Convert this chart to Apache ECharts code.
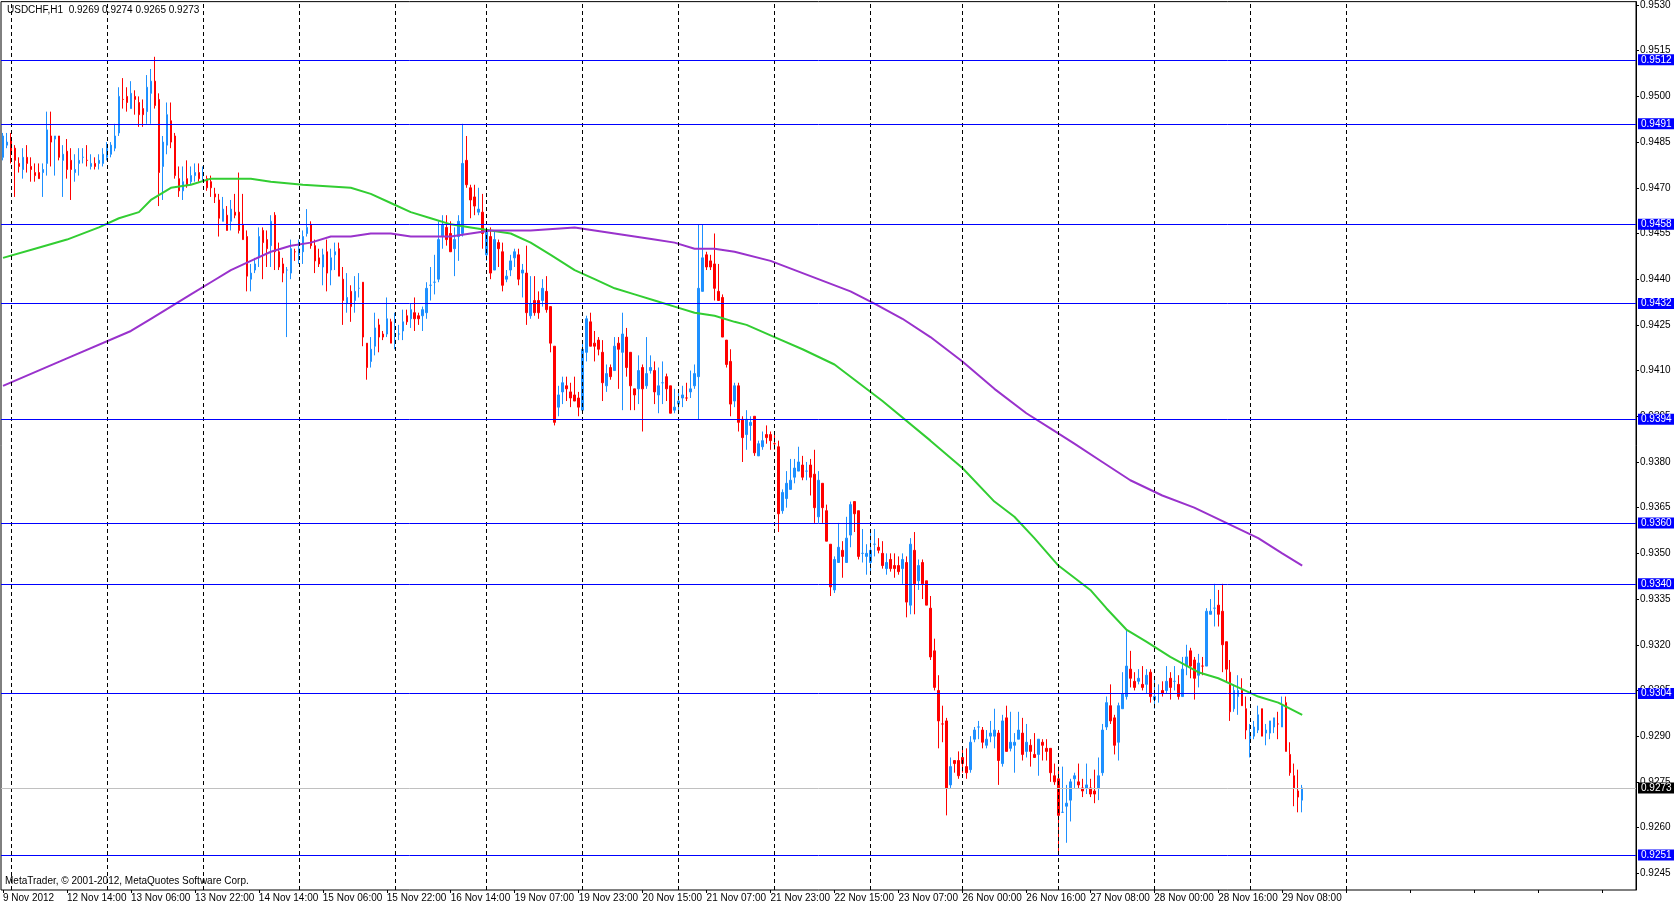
<!DOCTYPE html>
<html>
<head>
<meta charset="utf-8">
<title>USDCHF,H1</title>
<script src="https://cdn.jsdelivr.net/npm/echarts@6/dist/echarts.min.js"></script>
<style>
  html, body { margin: 0; padding: 0; background: #fff; }
  #main { width: 1674px; height: 906px; }
</style>
</head>
<body>
<div id="main"></div>
<script>
// hourly bars, [open, high, low, close]
const bars = [
  [0.9480,0.9488,0.9479,0.9487],[0.9484,0.9488,0.9483,0.9485],[0.9486,0.9488,0.9478,0.9481],[0.9483,0.9484,0.9467,0.9479],
  [0.9478,0.9480,0.9475,0.9477],[0.9476,0.9483,0.9473,0.9480],[0.9480,0.9484,0.9475,0.9478],[0.9477,0.9480,0.9472,0.9476],
  [0.9475,0.9478,0.9472,0.9474],[0.9475,0.9478,0.9473,0.9473],[0.9475,0.9478,0.9467,0.9476],[0.9478,0.9495,0.9474,0.9489],
  [0.9487,0.9495,0.9477,0.9485],[0.9486,0.9487,0.9474,0.9487],[0.9487,0.9487,0.9479,0.9480],[0.9479,0.9484,0.9467,0.9481],
  [0.9482,0.9486,0.9473,0.9476],[0.9479,0.9483,0.9466,0.9476],[0.9475,0.9481,0.9472,0.9476],[0.9478,0.9483,0.9474,0.9479],
  [0.9480,0.9483,0.9478,0.9480],[0.9479,0.9484,0.9477,0.9479],[0.9477,0.9481,0.9476,0.9478],[0.9478,0.9480,0.9476,0.9477],
  [0.9478,0.9481,0.9476,0.9479],[0.9478,0.9483,0.9477,0.9481],[0.9480,0.9485,0.9479,0.9483],[0.9481,0.9485,0.9480,0.9484],
  [0.9483,0.9491,0.9482,0.9487],[0.9488,0.9503,0.9487,0.9500],[0.9499,0.9506,0.9496,0.9499],[0.9500,0.9503,0.9495,0.9498],
  [0.9496,0.9505,0.9496,0.9501],[0.9500,0.9502,0.9494,0.9499],[0.9498,0.9500,0.9490,0.9494],[0.9496,0.9499,0.9490,0.9494],
  [0.9495,0.9507,0.9491,0.9503],[0.9501,0.9509,0.9491,0.9505],[0.9505,0.9513,0.9496,0.9497],[0.9499,0.9501,0.9464,0.9475],
  [0.9477,0.9487,0.9466,0.9485],[0.9484,0.9498,0.9481,0.9494],[0.9492,0.9498,0.9483,0.9485],[0.9487,0.9488,0.9473,0.9474],
  [0.9473,0.9477,0.9467,0.9469],[0.9469,0.9477,0.9466,0.9472],[0.9473,0.9479,0.9470,0.9471],[0.9472,0.9477,0.9471,0.9474],
  [0.9474,0.9478,0.9472,0.9475],[0.9475,0.9478,0.9472,0.9473],[0.9474,0.9477,0.9472,0.9474],[0.9473,0.9474,0.9469,0.9470],
  [0.9472,0.9474,0.9467,0.9470],[0.9468,0.9470,0.9465,0.9467],[0.9466,0.9468,0.9454,0.9460],[0.9459,0.9467,0.9459,0.9463],
  [0.9461,0.9464,0.9456,0.9456],[0.9459,0.9466,0.9456,0.9463],[0.9462,0.9468,0.9460,0.9461],[0.9462,0.9475,0.9455,0.9456],
  [0.9458,0.9468,0.9453,0.9453],[0.9454,0.9456,0.9436,0.9441],[0.9440,0.9445,0.9436,0.9442],[0.9443,0.9447,0.9442,0.9445],
  [0.9447,0.9457,0.9444,0.9454],[0.9456,0.9457,0.9440,0.9452],[0.9453,0.9456,0.9444,0.9450],[0.9451,0.9461,0.9444,0.9459],
  [0.9461,0.9462,0.9443,0.9449],[0.9449,0.9452,0.9443,0.9444],[0.9445,0.9447,0.9439,0.9442],[0.9443,0.9444,0.9421,0.9443],
  [0.9442,0.9453,0.9440,0.9450],[0.9449,0.9450,0.9446,0.9449],[0.9448,0.9453,0.9445,0.9450],[0.9449,0.9456,0.9445,0.9454],
  [0.9455,0.9463,0.9454,0.9457],[0.9458,0.9459,0.9450,0.9451],[0.9451,0.9453,0.9442,0.9446],[0.9447,0.9450,0.9444,0.9445],
  [0.9444,0.9450,0.9438,0.9448],[0.9449,0.9453,0.9436,0.9442],[0.9443,0.9450,0.9438,0.9447],[0.9448,0.9452,0.9443,0.9449],
  [0.9450,0.9452,0.9441,0.9441],[0.9440,0.9444,0.9425,0.9433],[0.9432,0.9442,0.9429,0.9434],[0.9436,0.9438,0.9426,0.9431],
  [0.9433,0.9441,0.9429,0.9436],[0.9437,0.9442,0.9434,0.9437],[0.9439,0.9439,0.9418,0.9421],[0.9419,0.9419,0.9407,0.9411],
  [0.9413,0.9421,0.9411,0.9417],[0.9418,0.9429,0.9415,0.9424],[0.9425,0.9427,0.9416,0.9421],[0.9422,0.9423,0.9420,0.9421],
  [0.9422,0.9434,0.9421,0.9427],[0.9426,0.9427,0.9419,0.9419],[0.9419,0.9429,0.9417,0.9420],[0.9422,0.9425,0.9420,0.9422],
  [0.9423,0.9430,0.9420,0.9426],[0.9428,0.9430,0.9425,0.9426],[0.9427,0.9432,0.9424,0.9430],[0.9429,0.9434,0.9423,0.9427],
  [0.9428,0.9429,0.9425,0.9427],[0.9428,0.9431,0.9423,0.9430],[0.9429,0.9439,0.9427,0.9437],[0.9438,0.9444,0.9433,0.9438],
  [0.9439,0.9448,0.9435,0.9439],[0.9440,0.9459,0.9439,0.9453],[0.9454,0.9461,0.9450,0.9458],[0.9457,0.9461,0.9451,0.9453],
  [0.9455,0.9459,0.9449,0.9449],[0.9450,0.9457,0.9441,0.9453],[0.9454,0.9461,0.9446,0.9459],[0.9455,0.9491,0.9454,0.9478],
  [0.9479,0.9487,0.9470,0.9471],[0.9470,0.9471,0.9460,0.9466],[0.9467,0.9471,0.9461,0.9464],[0.9462,0.9470,0.9461,0.9463],
  [0.9462,0.9468,0.9450,0.9455],[0.9448,0.9457,0.9446,0.9456],[0.9454,0.9457,0.9440,0.9442],[0.9443,0.9456,0.9443,0.9453],
  [0.9452,0.9453,0.9444,0.9450],[0.9449,0.9452,0.9436,0.9438],[0.9440,0.9443,0.9439,0.9441],[0.9443,0.9448,0.9441,0.9446],
  [0.9447,0.9450,0.9444,0.9449],[0.9448,0.9450,0.9438,0.9440],[0.9442,0.9445,0.9434,0.9443],[0.9442,0.9451,0.9425,0.9429],
  [0.9428,0.9441,0.9427,0.9432],[0.9433,0.9441,0.9428,0.9429],[0.9433,0.9436,0.9427,0.9429],[0.9433,0.9440,0.9431,0.9437],
  [0.9436,0.9441,0.9429,0.9430],[0.9431,0.9431,0.9416,0.9419],[0.9418,0.9418,0.9392,0.9393],[0.9398,0.9405,0.9395,0.9402],
  [0.9403,0.9408,0.9399,0.9406],[0.9405,0.9408,0.9400,0.9404],[0.9403,0.9406,0.9398,0.9401],[0.9402,0.9408,0.9400,0.9400],
  [0.9401,0.9403,0.9395,0.9398],[0.9397,0.9419,0.9396,0.9417],[0.9416,0.9428,0.9413,0.9427],[0.9426,0.9429,0.9418,0.9418],
  [0.9419,0.9423,0.9413,0.9418],[0.9420,0.9421,0.9415,0.9417],[0.9416,0.9420,0.9400,0.9406],[0.9405,0.9412,0.9403,0.9409],
  [0.9411,0.9412,0.9407,0.9408],[0.9410,0.9421,0.9410,0.9418],[0.9419,0.9421,0.9404,0.9417],[0.9416,0.9429,0.9397,0.9422],
  [0.9421,0.9424,0.9408,0.9411],[0.9416,0.9416,0.9397,0.9405],[0.9404,0.9404,0.9397,0.9402],[0.9404,0.9415,0.9399,0.9410],
  [0.9411,0.9412,0.9390,0.9404],[0.9405,0.9421,0.9404,0.9409],[0.9410,0.9415,0.9409,0.9411],[0.9410,0.9413,0.9399,0.9403],
  [0.9402,0.9411,0.9396,0.9405],[0.9406,0.9413,0.9399,0.9406],[0.9408,0.9409,0.9400,0.9404],[0.9405,0.9405,0.9396,0.9396],
  [0.9397,0.9404,0.9396,0.9398],[0.9399,0.9403,0.9396,0.9400],[0.9401,0.9405,0.9398,0.9402],[0.9401,0.9406,0.9400,0.9401],
  [0.9403,0.9410,0.9401,0.9404],[0.9405,0.9412,0.9404,0.9409],[0.9408,0.9458,0.9394,0.9437],[0.9436,0.9458,0.9436,0.9447],
  [0.9448,0.9449,0.9443,0.9444],[0.9446,0.9448,0.9443,0.9444],[0.9445,0.9455,0.9433,0.9437],[0.9436,0.9445,0.9433,0.9433],
  [0.9434,0.9435,0.9421,0.9421],[0.9420,0.9420,0.9411,0.9412],[0.9413,0.9417,0.9395,0.9399],[0.9400,0.9406,0.9398,0.9405],
  [0.9405,0.9406,0.9390,0.9393],[0.9394,0.9395,0.9380,0.9388],[0.9389,0.9397,0.9384,0.9394],[0.9392,0.9395,0.9387,0.9393],
  [0.9395,0.9395,0.9382,0.9383],[0.9382,0.9387,0.9382,0.9386],[0.9385,0.9390,0.9384,0.9387],[0.9389,0.9392,0.9386,0.9388],
  [0.9389,0.9390,0.9384,0.9387],[0.9386,0.9389,0.9384,0.9386],[0.9385,0.9387,0.9357,0.9363],[0.9364,0.9371,0.9363,0.9370],
  [0.9368,0.9377,0.9365,0.9373],[0.9371,0.9381,0.9371,0.9374],[0.9375,0.9381,0.9373,0.9378],[0.9377,0.9385,0.9377,0.9380],
  [0.9379,0.9382,0.9374,0.9375],[0.9377,0.9380,0.9374,0.9377],[0.9379,0.9381,0.9369,0.9375],[0.9376,0.9384,0.9360,0.9365],
  [0.9362,0.9377,0.9360,0.9374],[0.9373,0.9373,0.9360,0.9365],[0.9364,0.9366,0.9354,0.9354],[0.9353,0.9353,0.9336,0.9339],
  [0.9338,0.9349,0.9337,0.9348],[0.9347,0.9360,0.9347,0.9352],[0.9351,0.9354,0.9342,0.9349],[0.9347,0.9362,0.9347,0.9355],
  [0.9356,0.9367,0.9352,0.9366],[0.9367,0.9367,0.9357,0.9363],[0.9364,0.9364,0.9348,0.9349],[0.9350,0.9358,0.9347,0.9350],
  [0.9349,0.9353,0.9343,0.9350],[0.9347,0.9358,0.9344,0.9351],[0.9353,0.9358,0.9349,0.9353],[0.9352,0.9355,0.9350,0.9351],
  [0.9350,0.9354,0.9345,0.9346],[0.9345,0.9350,0.9343,0.9347],[0.9348,0.9350,0.9344,0.9345],[0.9346,0.9350,0.9342,0.9345],
  [0.9346,0.9349,0.9343,0.9344],[0.9345,0.9350,0.9340,0.9348],[0.9347,0.9349,0.9329,0.9334],[0.9333,0.9355,0.9330,0.9353],
  [0.9351,0.9357,0.9330,0.9340],[0.9341,0.9348,0.9338,0.9346],[0.9347,0.9348,0.9335,0.9340],[0.9341,0.9341,0.9333,0.9333],
  [0.9332,0.9336,0.9315,0.9316],[0.9318,0.9322,0.9305,0.9306],[0.9305,0.9310,0.9286,0.9295],[0.9294,0.9300,0.9288,0.9294],
  [0.9295,0.9296,0.9264,0.9273],[0.9274,0.9283,0.9273,0.9280],[0.9282,0.9282,0.9278,0.9281],[0.9282,0.9285,0.9276,0.9277],
  [0.9283,0.9286,0.9278,0.9281],[0.9280,0.9286,0.9276,0.9278],[0.9279,0.9290,0.9278,0.9288],[0.9289,0.9293,0.9288,0.9292],
  [0.9293,0.9295,0.9289,0.9293],[0.9292,0.9293,0.9286,0.9288],[0.9287,0.9292,0.9286,0.9289],[0.9290,0.9295,0.9288,0.9291],
  [0.9290,0.9299,0.9286,0.9292],[0.9291,0.9292,0.9274,0.9282],[0.9281,0.9297,0.9280,0.9295],[0.9296,0.9300,0.9285,0.9285],
  [0.9286,0.9298,0.9285,0.9288],[0.9287,0.9291,0.9278,0.9288],[0.9289,0.9298,0.9289,0.9292],[0.9291,0.9296,0.9282,0.9284],
  [0.9285,0.9294,0.9283,0.9288],[0.9287,0.9289,0.9280,0.9285],[0.9284,0.9291,0.9283,0.9283],[0.9284,0.9289,0.9277,0.9289],
  [0.9288,0.9289,0.9282,0.9287],[0.9286,0.9289,0.9282,0.9285],[0.9286,0.9286,0.9275,0.9278],[0.9277,0.9281,0.9274,0.9275],
  [0.9276,0.9280,0.9251,0.9264],[0.9265,0.9280,0.9265,0.9265],[0.9267,0.9274,0.9255,0.9268],[0.9269,0.9276,0.9262,0.9275],
  [0.9276,0.9278,0.9273,0.9277],[0.9275,0.9281,0.9273,0.9274],[0.9273,0.9276,0.9270,0.9272],[0.9273,0.9281,0.9271,0.9274],
  [0.9273,0.9276,0.9270,0.9271],[0.9272,0.9279,0.9268,0.9271],[0.9273,0.9283,0.9269,0.9277],[0.9278,0.9294,0.9277,0.9292],
  [0.9293,0.9303,0.9292,0.9301],[0.9300,0.9307,0.9294,0.9295],[0.9296,0.9297,0.9284,0.9287],[0.9288,0.9301,0.9282,0.9300],
  [0.9299,0.9311,0.9299,0.9304],[0.9303,0.9325,0.9302,0.9313],[0.9312,0.9318,0.9306,0.9309],[0.9308,0.9311,0.9305,0.9306],
  [0.9308,0.9312,0.9307,0.9309],[0.9307,0.9313,0.9305,0.9306],[0.9307,0.9312,0.9304,0.9310],[0.9311,0.9312,0.9301,0.9303],
  [0.9302,0.9309,0.9299,0.9303],[0.9304,0.9307,0.9301,0.9304],[0.9305,0.9308,0.9303,0.9304],[0.9305,0.9313,0.9304,0.9308],
  [0.9309,0.9311,0.9302,0.9306],[0.9308,0.9313,0.9305,0.9308],[0.9307,0.9310,0.9302,0.9303],[0.9303,0.9316,0.9303,0.9312],
  [0.9313,0.9320,0.9310,0.9316],[0.9318,0.9319,0.9309,0.9313],[0.9315,0.9316,0.9302,0.9309],[0.9310,0.9317,0.9306,0.9314],
  [0.9313,0.9316,0.9310,0.9313],[0.9313,0.9332,0.9313,0.9331],[0.9330,0.9335,0.9330,0.9331],[0.9332,0.9340,0.9326,0.9332],
  [0.9333,0.9338,0.9326,0.9330],[0.9331,0.9340,0.9311,0.9320],[0.9321,0.9321,0.9308,0.9312],[0.9311,0.9315,0.9295,0.9298],
  [0.9299,0.9307,0.9298,0.9305],[0.9303,0.9310,0.9297,0.9305],[0.9305,0.9309,0.9300,0.9300],[0.9299,0.9303,0.9289,0.9292],
  [0.9289,0.9294,0.9283,0.9291],[0.9290,0.9295,0.9289,0.9293],[0.9292,0.9300,0.9291,0.9297],[0.9299,0.9299,0.9290,0.9290],
  [0.9291,0.9294,0.9287,0.9292],[0.9291,0.9295,0.9289,0.9295],[0.9293,0.9296,0.9291,0.9296],[0.9294,0.9298,0.9289,0.9294],
  [0.9293,0.9303,0.9293,0.9300],[0.9301,0.9303,0.9285,0.9285],[0.9284,0.9288,0.9277,0.9278],[0.9277,0.9281,0.9267,0.9273],
  [0.9272,0.9279,0.9265,0.9270],[0.9269,0.9274,0.9265,0.9273]
];

// moving averages, sampled along the drawn curves: [bar index, value]
const maGreen = [
  [0,0.9447],[8,0.9450],[16,0.9453],[24,0.9457],[29,0.9460],[34,0.9462],[37,0.9466],[42,0.9470],[47,0.9471],
  [52,0.9473],[57,0.9473],[62,0.9473],[67,0.9472],[75,0.9471],[87,0.9470],[92,0.9468],[97,0.9465],[102,0.9462],
  [107,0.9460],[112,0.9458],[117,0.9457],[122,0.9456],[127,0.9455],[132,0.9452],[137,0.9448],[143,0.9443],
  [148,0.9440],[153,0.9437],[158,0.9435],[163,0.9433],[168,0.9431],[173,0.9429],[178,0.9428],[183,0.9426],
  [186,0.9425],[193,0.9421],[200,0.9417],[208,0.9412],[214,0.9406],[220,0.9400],[232,0.9387],[240,0.9378],
  [248,0.9367],[253,0.9362],[258,0.9355],[264,0.9346],[272,0.9338],[276,0.9332],[281,0.9325],[286,0.9321],
  [292,0.9316],[299,0.9311],[304,0.9309],[309,0.9306],[314,0.9303],[319,0.9301],[325,0.9297]
];
const maPurple = [
  [0,0.9405],[16,0.9414],[32,0.9423],[37,0.9427],[42,0.9431],[47,0.9435],[52,0.9439],[57,0.9443],[62,0.9446],
  [67,0.9449],[72,0.9451],[77,0.9452],[82,0.9454],[87,0.9454],[92,0.9455],[97,0.9455],[102,0.9454],[112,0.9454],
  [122,0.9456],[132,0.9456],[143,0.9457],[148,0.9456],[153,0.9455],[158,0.9454],[163,0.9453],[168,0.9452],
  [173,0.9450],[178,0.9450],[183,0.9449],[192,0.9446],[202,0.9441],[212,0.9436],[218,0.9432],[225,0.9427],
  [232,0.9421],[240,0.9413],[248,0.9404],[256,0.9396],[262,0.9391],[268,0.9386],[275,0.9380],[282,0.9374],
  [290,0.9369],[298,0.9365],[306,0.9360],[314,0.9355],[320,0.9350],[325,0.9346]
];

const levels = [0.9512, 0.9491, 0.9458, 0.9432, 0.9394, 0.9360, 0.9340, 0.9304, 0.9251];
const lastPrice = 0.9273;
const yTicks = [0.9530, 0.9515, 0.9500, 0.9485, 0.9470, 0.9455, 0.9440, 0.9425, 0.9410, 0.9395,
                0.9380, 0.9365, 0.9350, 0.9335, 0.9320, 0.9305, 0.9290, 0.9275, 0.9260, 0.9245];
// one label every 16 bars
const tickLabels = ['9 Nov 2012', '12 Nov 14:00', '13 Nov 06:00', '13 Nov 22:00', '14 Nov 14:00', '15 Nov 06:00',
  '15 Nov 22:00', '16 Nov 14:00', '19 Nov 07:00', '19 Nov 23:00', '20 Nov 15:00', '21 Nov 07:00', '21 Nov 23:00',
  '22 Nov 15:00', '23 Nov 07:00', '26 Nov 00:00', '26 Nov 16:00', '27 Nov 08:00', '28 Nov 00:00', '28 Nov 16:00',
  '29 Nov 08:00'];
// bars where a new day starts (dotted grid)
const dayLines = [2, 26, 50, 74, 98, 121, 145, 169, 193, 217, 240, 264, 288, 312, 336];

const slotCount = 409; // chart leaves empty room on the right
const categories = Array.from({ length: slotCount }, (_, i) => String(i));

const chart = echarts.init(document.getElementById('main'));

const font = 'Liberation Sans, Arial, sans-serif';
const levelLabel = (bg) => ({
  show: true, position: 'end', distance: 2,
  backgroundColor: bg, color: '#fff', fontSize: 10, fontFamily: font,
  padding: [1, 3, 0, 3], lineHeight: 10
});

const markData = [];
dayLines.forEach(i => markData.push({
  xAxis: i, label: { show: false },
  lineStyle: { color: '#000', type: [4, 3], width: 1 }
}));
levels.forEach(v => markData.push({
  yAxis: v, label: Object.assign(levelLabel('#0000ff'), { formatter: v.toFixed(4) }),
  lineStyle: { color: '#0000ff', type: 'solid', width: 1 }
}));
markData.push({
  yAxis: lastPrice, label: Object.assign(levelLabel('#000'), { formatter: lastPrice.toFixed(4) }),
  lineStyle: { color: '#c0c0c0', type: 'solid', width: 1 }
});

const option = {
  animation: false,
  backgroundColor: '#fff',
  textStyle: { fontFamily: font },
  grid: { left: 1, right: 38, top: 0, bottom: 16, show: true, borderColor: '#000', borderWidth: 1 },
  xAxis: {
    type: 'category',
    data: categories,
    boundaryGap: true,
    axisLine: { show: false },
    axisTick: { show: true, interval: 15, alignWithLabel: true, length: 3, lineStyle: { color: '#000' } },
    axisLabel: {
      interval: 15, align: 'left', margin: 3, fontSize: 10, color: '#000',
      formatter: (v, i) => tickLabels[i / 16] || ''
    },
    splitLine: { show: false }
  },
  yAxis: {
    type: 'value',
    position: 'right',
    min: 0.92395,
    max: 0.95311,
    axisLine: { show: true, lineStyle: { color: '#000' } },
    axisTick: { show: true, length: 3, customValues: yTicks, lineStyle: { color: '#000' } },
    axisLabel: {
      customValues: yTicks, margin: 4, fontSize: 10, color: '#000',
      formatter: v => v.toFixed(4)
    },
    splitLine: { show: false }
  },
  graphic: [
    { type: 'text', left: 7, top: 5, style: { text: 'USDCHF,H1  0.9269 0.9274 0.9265 0.9273', fill: '#000', font: '10px ' + font } },
    { type: 'text', left: 5, top: 876, style: { text: 'MetaTrader, \u00a9 2001-2012, MetaQuotes Software Corp.', fill: '#000', font: '10px ' + font } }
  ],
  series: [
    {
      type: 'candlestick',
      data: bars.map(b => [b[0], b[3], b[2], b[1]]),
      barWidth: 2,
      itemStyle: {
        color: '#1e90ff', color0: '#ff0000',
        borderColor: '#1e90ff', borderColor0: '#ff0000', borderWidth: 1
      },
      emphasis: { disabled: true },
      markLine: { silent: true, precision: 4, symbol: ['none', 'none'], animation: false, data: markData }
    },
    {
      type: 'line', data: maGreen, symbol: 'none', z: 3, silent: true,
      lineStyle: { color: '#32cd32', width: 2 }
    },
    {
      type: 'line', data: maPurple, symbol: 'none', z: 3, silent: true,
      lineStyle: { color: '#9932cc', width: 2 }
    }
  ]
};

chart.setOption(option);
</script>
</body>
</html>
